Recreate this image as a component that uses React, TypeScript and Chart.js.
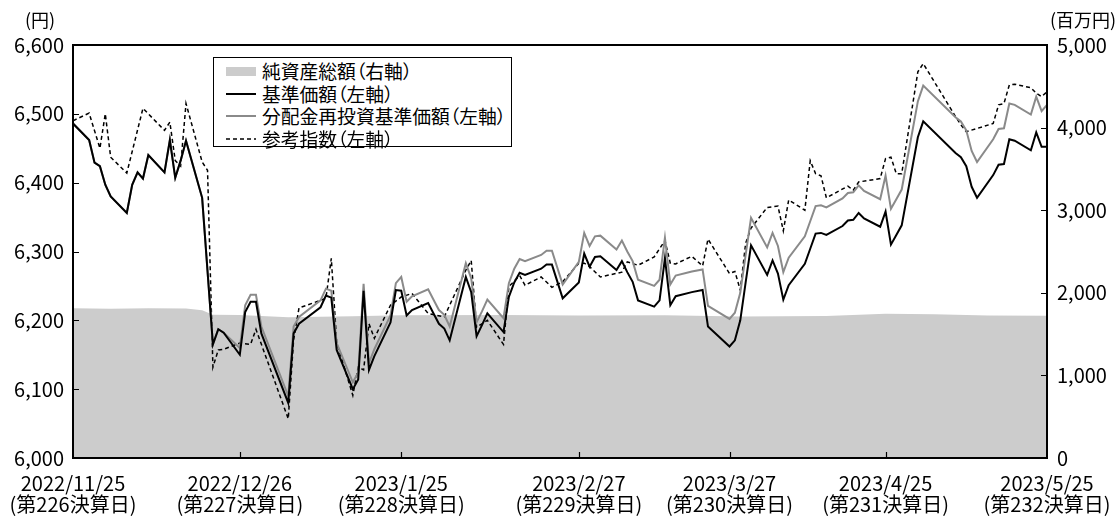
import React, { useEffect, useRef } from "react";
import { Chart, registerables } from "chart.js";

Chart.register(...registerables);

// x values are calendar-day offsets from 2022/11/25
const tickDays = [0, 31, 61, 94, 122, 151, 181];
const tickDates = ["2022/11/25", "2022/12/26", "2023/1/25", "2023/2/27", "2023/3/27", "2023/4/25", "2023/5/25"];
const tickNotes = ["(第226決算日)", "(第227決算日)", "(第228決算日)", "(第229決算日)", "(第230決算日)", "(第231決算日)", "(第232決算日)"];

const leftAxisUnit = "(円)";
const rightAxisUnit = "(百万円)";

const seriesLabels = ["純資産総額（右軸）", "基準価額（左軸）", "分配金再投資基準価額（左軸）", "参考指数（左軸）"];

// 基準価額 / 分配金再投資基準価額 share the same dates
const navDays = [
  0, 3, 4, 5, 6, 7, 10, 11, 12, 13, 14, 17, 18, 19, 20, 21, 24, 26, 27, 28,
  31, 32, 33, 34, 35, 40, 41, 42, 46, 47, 48, 49, 52, 53, 54, 55, 56, 59, 60,
  61, 62, 63, 66, 67, 68, 69, 70, 73, 74, 75, 76, 77, 80, 81, 82, 83, 84, 87, 88, 89, 91,
  94, 95, 96, 97, 98, 101, 102, 103, 104, 105, 108, 109, 110, 111, 112, 115, 117, 118,
  122, 123, 124, 125, 126, 129, 130, 131, 132, 133, 136, 137, 138, 139, 140, 143, 144, 145, 146, 147, 150,
  151, 152, 153, 154, 157, 158, 164, 165, 166, 167, 168, 171, 172, 173, 174, 175, 178, 179, 180, 181,
];
const navValues = [
  6486, 6462, 6429, 6424, 6397, 6380, 6356, 6397, 6415, 6406, 6440, 6415, 6462, 6407, 6432, 6461, 6378, 6165, 6187, 6182,
  6150, 6212, 6227, 6227, 6181, 6080, 6181, 6195, 6219, 6236, 6233, 6157, 6100, 6114, 6243, 6128, 6148, 6197, 6244,
  6243, 6207, 6215, 6225, 6210, 6195, 6188, 6171, 6263, 6241, 6177, 6193, 6210, 6183, 6234, 6255, 6269, 6266, 6275, 6281, 6281, 6232,
  6255, 6297, 6278, 6292, 6293, 6273, 6286, 6270, 6256, 6229, 6220, 6229, 6290, 6222, 6235, 6241, 6244, 6191,
  6162, 6171, 6200, 6255, 6309, 6266, 6287, 6268, 6230, 6251, 6282, 6304, 6326, 6327, 6324, 6337, 6345, 6346, 6356, 6348, 6336,
  6358, 6310, 6324, 6338, 6466, 6489, 6443, 6437, 6424, 6394, 6378, 6411, 6426, 6427, 6463, 6461, 6447, 6473, 6452, 6452,
];
const reinvestValues = [
  6486, 6462, 6429, 6424, 6397, 6380, 6356, 6397, 6415, 6406, 6440, 6415, 6462, 6407, 6432, 6461, 6378, 6165, 6187, 6182,
  6160, 6222, 6237, 6237, 6191, 6090, 6191, 6205, 6229, 6246, 6243, 6167, 6110, 6124, 6253, 6138, 6158, 6207, 6254,
  6263, 6227, 6235, 6245, 6230, 6215, 6208, 6191, 6283, 6261, 6197, 6213, 6230, 6203, 6254, 6275, 6289, 6286, 6295, 6301, 6301, 6252,
  6285, 6327, 6308, 6322, 6323, 6303, 6316, 6300, 6286, 6259, 6250, 6259, 6320, 6252, 6265, 6271, 6274, 6221,
  6202, 6211, 6240, 6295, 6349, 6306, 6327, 6308, 6270, 6291, 6322, 6344, 6366, 6367, 6364, 6377, 6385, 6386, 6396, 6388, 6376,
  6410, 6362, 6376, 6390, 6518, 6541, 6495, 6489, 6476, 6446, 6430, 6463, 6478, 6479, 6515, 6513, 6499, 6525, 6504, 6513,
];

// 参考指数
const refDays = [
  0, 3, 5, 6, 7, 10, 13, 17, 18, 19, 20, 21, 24, 25, 26, 27, 28, 31, 33, 34, 40, 41, 42, 46, 47, 48, 49,
  52, 53, 54, 55, 56, 59, 61, 63, 66, 69, 73, 74, 75, 77, 80, 81, 83, 84, 87, 89, 91,
  94, 95, 96, 98, 102, 103, 105, 108, 110, 111, 112, 115, 117, 118,
  122, 123, 124, 125, 126, 129, 131, 132, 133, 136, 137, 138, 139, 140, 144, 145, 146, 150,
  151, 152, 153, 154, 157, 158, 164, 165, 166, 171, 172, 173, 174, 175, 178, 179, 180, 181,
];
const refValues = [
  6490, 6501, 6450, 6500, 6437, 6414, 6508, 6476, 6488, 6432, 6424, 6515, 6430, 6418, 6132, 6157, 6158, 6167, 6165, 6187, 6057, 6172, 6218, 6229, 6232, 6290, 6168,
  6091, 6132, 6128, 6195, 6174, 6222, 6234, 6239, 6210, 6205, 6273, 6287, 6190, 6200, 6165, 6249, 6265, 6251, 6263, 6248, 6256,
  6283, 6283, 6278, 6263, 6270, 6285, 6280, 6292, 6316, 6283, 6282, 6293, 6279, 6318,
  6268, 6271, 6244, 6312, 6334, 6364, 6366, 6330, 6375, 6360, 6432, 6413, 6410, 6378, 6395, 6389, 6401, 6406,
  6435, 6437, 6413, 6413, 6561, 6573, 6496, 6484, 6474, 6486, 6513, 6515, 6542, 6543, 6538, 6530, 6525, 6532,
];

// 純資産総額（百万円）
const assetDays = [0, 7, 14, 21, 24, 26, 31, 40, 52, 61, 80, 94, 110, 124, 140, 151, 160, 170, 181];
const assetValues = [1812, 1808, 1812, 1810, 1790, 1735, 1730, 1705, 1715, 1728, 1730, 1725, 1728, 1712, 1718, 1745, 1740, 1725, 1722];

const FONT = '"Noto Sans CJK JP", "Noto Sans", sans-serif';

const legendRows = [71, 93.5, 116, 138.5];

function LegendSwatch({ kind }: { kind: number }) {
  const base: React.CSSProperties = { position: "absolute", left: 12, width: 30 };
  if (kind === 0) return <div style={{ ...base, top: -4.5, height: 9, background: "#cccccc" }} />;
  if (kind === 1) return <div style={{ ...base, top: -1, height: 0, borderTop: "2px solid #000" }} />;
  if (kind === 2) return <div style={{ ...base, top: -1, height: 0, borderTop: "2px solid #8a8a8a" }} />;
  return (
    <svg style={{ ...base, top: -2, height: 4 }} width={30} height={4}>
      <line x1={0} y1={2} x2={30} y2={2} stroke="#000" strokeWidth={1.5} strokeDasharray="4 3" />
    </svg>
  );
}

export default function App() {
  const ref = useRef<HTMLCanvasElement | null>(null);

  useEffect(() => {
    const canvas = ref.current;
    if (!canvas) return;
    const pts = (xs: number[], ys: number[]) => xs.map((x, i) => ({ x, y: ys[i] }));

    const framePlugin = {
      id: "framePlugin",
      afterDatasetsDraw(chart: any) {
        const { ctx, chartArea } = chart;
        const { left, right, top, bottom } = chartArea;
        const ys = chart.scales.y;
        const y1 = chart.scales.y1;
        const xs = chart.scales.x;
        ctx.save();
        ctx.strokeStyle = "#000";
        ctx.lineWidth = 2;
        ctx.strokeRect(left, top, right - left, bottom - top);
        ctx.lineWidth = 1.2;
        ctx.beginPath();
        for (let v = 6100; v < 6600; v += 100) {
          const p = Math.round(ys.getPixelForValue(v)) + 0.5;
          ctx.moveTo(left, p);
          ctx.lineTo(left + 6, p);
        }
        for (let v = 1000; v < 5000; v += 1000) {
          const p = Math.round(y1.getPixelForValue(v)) + 0.5;
          ctx.moveTo(right - 6, p);
          ctx.lineTo(right, p);
        }
        for (let i = 1; i < tickDays.length - 1; i++) {
          const p = Math.round(xs.getPixelForValue(tickDays[i])) + 0.5;
          ctx.moveTo(p, bottom);
          ctx.lineTo(p, bottom - 6);
        }
        ctx.stroke();
        ctx.restore();
      },
      afterDraw(chart: any) {
        const { ctx } = chart;
        ctx.save();
        ctx.fillStyle = "#000";
        ctx.font = `18px ${FONT}`;
        ctx.textBaseline = "middle";
        ctx.textAlign = "center";
        ctx.fillText(leftAxisUnit, 40, 20);
        ctx.fillText(rightAxisUnit, 1083, 20);
        ctx.restore();
      },
    };

    const chart = new Chart(canvas, {
      type: "line",
      data: {
        datasets: [
          {
            label: seriesLabels[1],
            data: pts(navDays, navValues),
            borderColor: "#000",
            borderWidth: 2,
            pointRadius: 0,
            tension: 0,
            yAxisID: "y",
            fill: false,
          },
          {
            label: seriesLabels[2],
            data: pts(navDays, reinvestValues),
            borderColor: "#8a8a8a",
            borderWidth: 2,
            pointRadius: 0,
            tension: 0,
            yAxisID: "y",
            fill: false,
          },
          {
            label: seriesLabels[3],
            data: pts(refDays, refValues),
            borderColor: "#000",
            borderWidth: 1.5,
            borderDash: [4, 3],
            pointRadius: 0,
            tension: 0,
            yAxisID: "y",
            fill: false,
          },
          {
            label: seriesLabels[0],
            data: pts(assetDays, assetValues),
            borderColor: "rgba(0,0,0,0)",
            borderWidth: 0,
            backgroundColor: "#cccccc",
            pointRadius: 0,
            tension: 0,
            yAxisID: "y1",
            fill: "origin",
          },
        ],
      },
      options: {
        responsive: false,
        animation: false,
        devicePixelRatio: 1,
        layout: { padding: { top: 45, left: 0, right: 0, bottom: 0 } },
        plugins: { legend: { display: false }, tooltip: { enabled: false } },
        scales: {
          x: {
            type: "linear",
            min: 0,
            max: 181,
            grid: { display: false, drawTicks: false },
            border: { display: false },
            afterBuildTicks: (s: any) => {
              s.ticks = tickDays.map((v) => ({ value: v }));
            },
            afterFit: (s: any) => {
              s.height = 59;
              s.paddingLeft = 0;
              s.paddingRight = 0;
            },
            ticks: {
              autoSkip: false,
              maxRotation: 0,
              padding: 15,
              color: "#000",
              font: { family: FONT, size: 20, lineHeight: 1.05 },
              callback: (v: any) => {
                const i = tickDays.indexOf(Number(v));
                return i >= 0 ? [tickDates[i], tickNotes[i]] : "";
              },
            },
          },
          y: {
            position: "left",
            min: 6000,
            max: 6600,
            grid: { display: false, drawTicks: false },
            border: { display: false },
            afterFit: (s: any) => {
              s.width = 73;
            },
            ticks: {
              stepSize: 100,
              padding: 9,
              color: "#000",
              font: { family: FONT, size: 20 },
              callback: (v: any) => Number(v).toLocaleString("en-US"),
            },
          },
          y1: {
            position: "right",
            min: 0,
            max: 5000,
            grid: { display: false, drawTicks: false },
            border: { display: false },
            afterFit: (s: any) => {
              s.width = 71;
            },
            ticks: {
              stepSize: 1000,
              padding: 10,
              color: "#000",
              font: { family: FONT, size: 20 },
              callback: (v: any) => Number(v).toLocaleString("en-US"),
            },
          },
        },
      },
      plugins: [framePlugin],
    } as any);

    return () => chart.destroy();
  }, []);

  return (
    <div style={{ position: "absolute", left: 0, top: 0, width: 1118, height: 517, background: "#fff" }}>
      <canvas ref={ref} width={1118} height={517} style={{ display: "block" }} />
      <div
        style={{
          position: "absolute",
          left: 213,
          top: 57,
          width: 297,
          height: 88,
          border: "1px solid #000",
          background: "#fff",
        }}
      >
        {seriesLabels.map((t, i) => (
          <div key={t} style={{ position: "absolute", left: 0, top: legendRows[i] - 58, width: 297, height: 0 }}>
            <LegendSwatch kind={i} />
            <div
              style={{
                position: "absolute",
                left: 48,
                top: -11,
                height: 22,
                lineHeight: "22px",
                whiteSpace: "nowrap",
                fontFamily: FONT,
                fontSize: 18.8,
                color: "#000",
                fontFeatureSettings: '"palt"',
              }}
            >
              {t}
            </div>
          </div>
        ))}
      </div>
    </div>
  );
}
